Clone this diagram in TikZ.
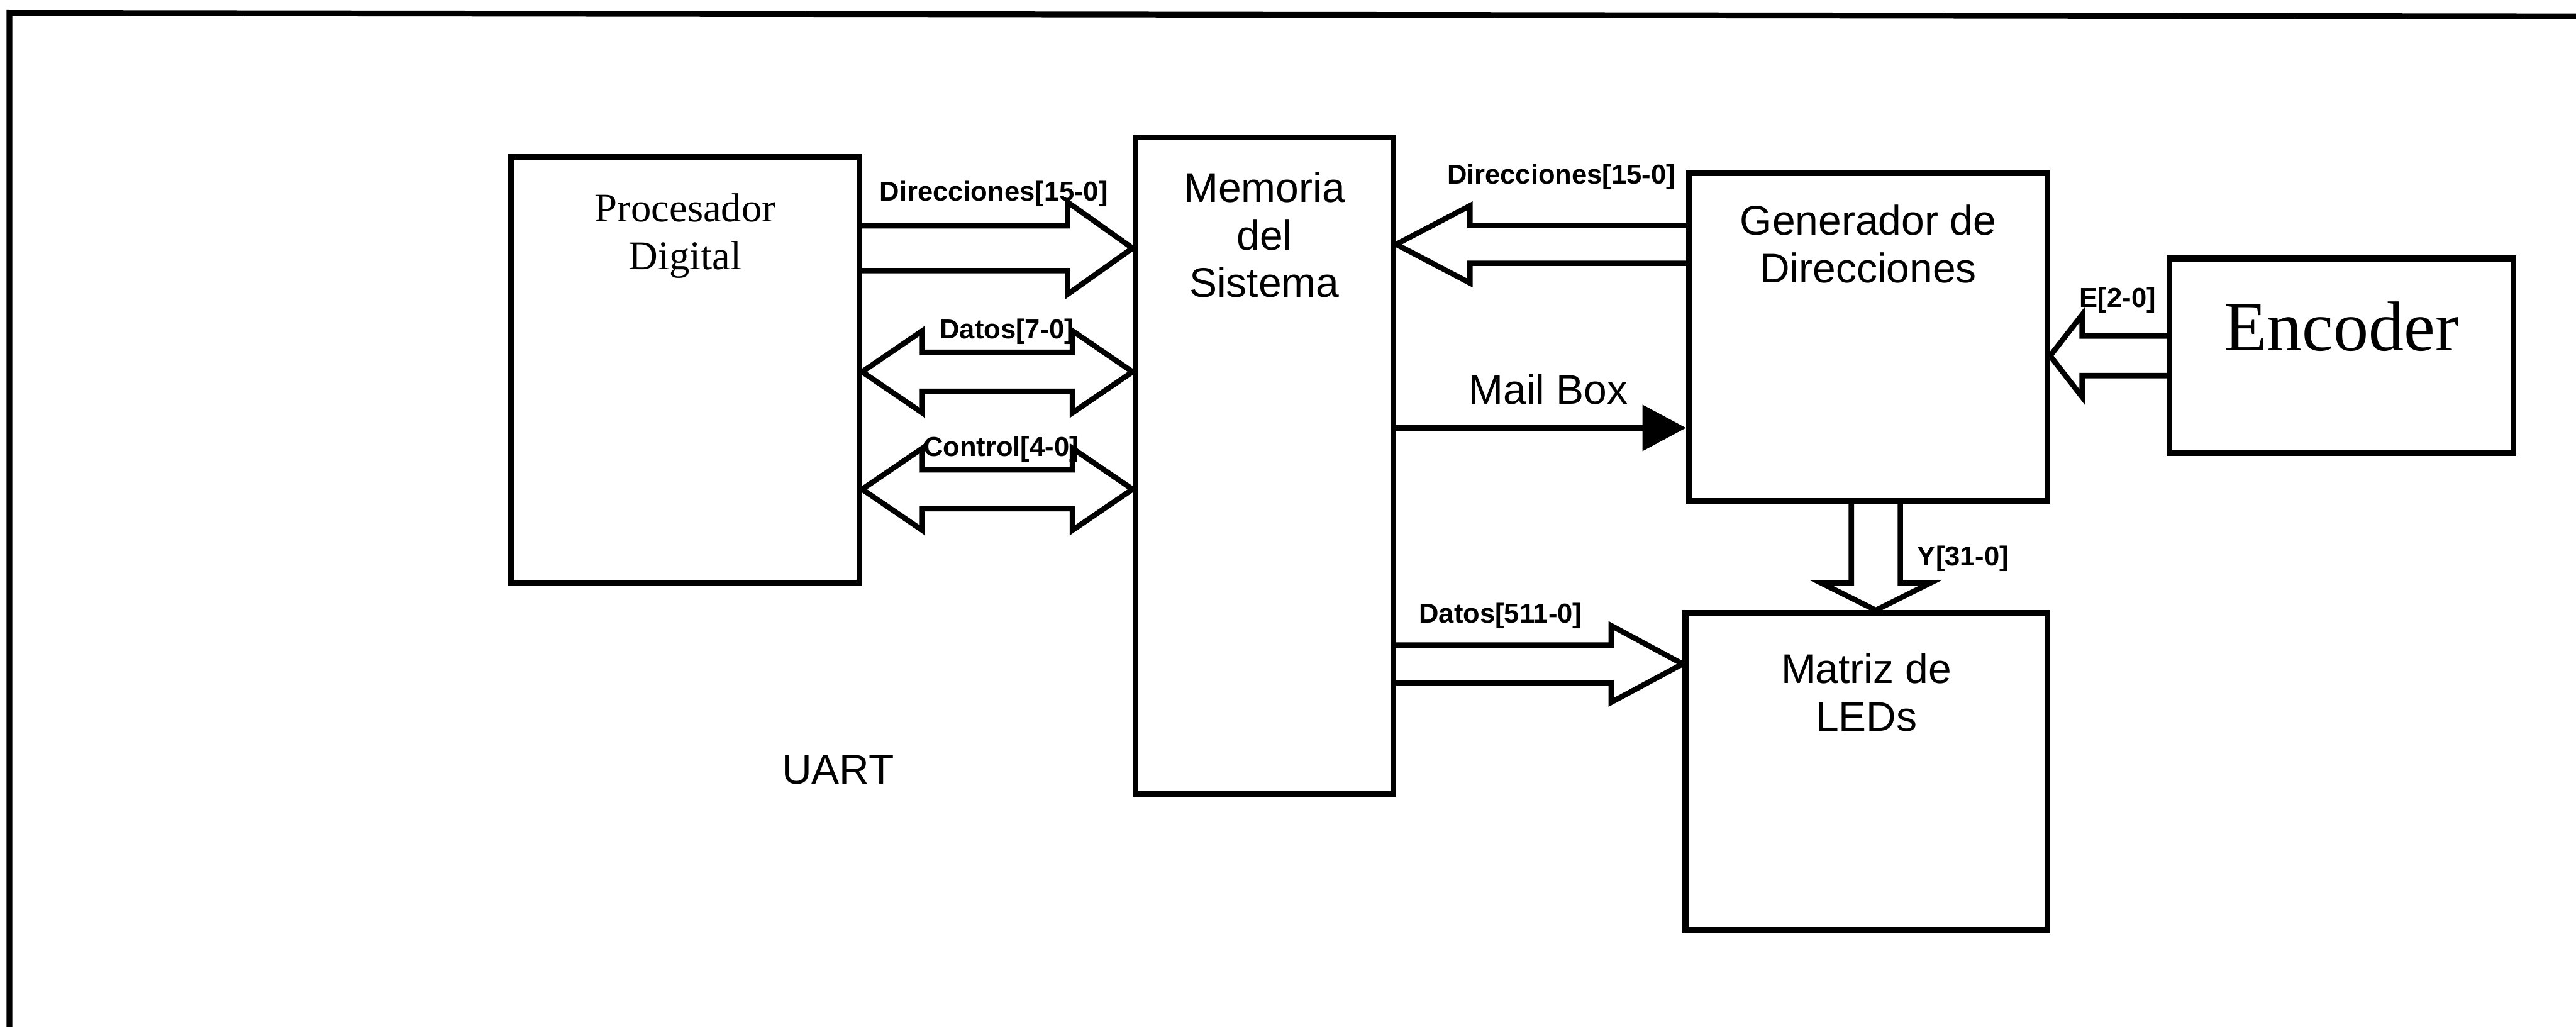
\documentclass[tikz,border=0pt]{standalone}
\usepackage{fontspec}
\setmainfont{Liberation Sans}
\newfontfamily\timesf{Liberation Serif}
\usepackage{tikz}
\usetikzlibrary{calc}
\usetikzlibrary{positioning}
\usetikzlibrary{arrows.meta}
\tikzset{box/.style n args={2}{draw, rectangle, line width=1.4pt, inner sep=0pt, minimum width=#1, minimum height=#2}}
\tikzset{bus/.style={line width=1.3pt, line join=miter}}
\tikzset{wire/.style={line width=1.5pt, -{Triangle[length=0.37cm,width=0.38cm]}}}
\tikzset{tag/.style={font=\fontsize{6.6}{7.5}\selectfont\bfseries, inner sep=1pt}}
\tikzset{txt/.style={font=\fontsize{10}{11.5}\selectfont, align=center}}
% block arrows: start, tip, half shaft, half head, head length
\newcommand{\busH}[5]{%
  \draw[bus] ($(#1)+(0,#3)$) -- ($(#2)+(#5,#3)$) -- ($(#2)+(#5,#4)$) -- (#2)
    -- ($(#2)+(#5,-#4)$) -- ($(#2)+(#5,-#3)$) -- ($(#1)+(0,-#3)$);}
\newcommand{\busD}[5]{%
  \draw[bus] (#1) -- ($(#1)+(#5,#4)$) -- ($(#1)+(#5,#3)$) -- ($(#2)+(-#5,#3)$)
    -- ($(#2)+(-#5,#4)$) -- (#2) -- ($(#2)+(-#5,-#4)$) -- ($(#2)+(-#5,-#3)$)
    -- ($(#1)+(#5,-#3)$) -- ($(#1)+(#5,-#4)$) -- cycle;}
\newcommand{\busV}[5]{%
  \draw[bus] ($(#1)+(-#3,0)$) -- ($(#2)+(-#3,#5)$) -- ($(#2)+(-#4,#5)$) -- (#2)
    -- ($(#2)+(#4,#5)$) -- ($(#2)+(#3,#5)$) -- ($(#1)+(#3,0)$);}

\begin{document}
\begin{tikzpicture}
   \useasboundingbox (0,0) rectangle (21.825,-8.7);
   % frame
   \draw[line width=1.4pt] (0.08,-8.7) -- (0.08,-0.11) -- (21.825,-0.14);

   \node[box={2.95cm}{3.61cm}]   (proc) at (5.805,-3.135)    {};
   \node[box={2.185cm}{5.565cm}] (mem)  at (10.7125,-3.9475) {};
   \node[box={3.035cm}{2.775cm}] (gen)  at (15.8275,-2.8575) {};
   \node[box={2.915cm}{1.65cm}]  (enc)  at (19.8375,-3.015)  {};
   \node[box={3.065cm}{2.685cm}] (mat)  at (15.8125,-6.5375) {};

   \node[txt, font=\timesf\fontsize{9.8}{11.5}\selectfont] (proctxt) at ([yshift=-0.695cm]proc.north) {Procesador\\Digital};
   \node[txt] (memtxt) at ([yshift=-0.85cm]mem.north) {Memoria\\del\\Sistema};
   \node[txt] (gentxt) at ([yshift=-0.62cm]gen.north) {Generador de\\Direcciones};
   \node[txt] (mattxt) at ([yshift=-0.695cm]mat.north) {Matriz de\\LEDs};
   \node[font=\timesf\fontsize{17}{20}\selectfont] (enctxt) at ([yshift=0.2475cm]enc.center) {Encoder};
   \node[txt] (uart) at (7.1,-6.52) {UART};

   % buses
   \coordinate (d1a) at ([yshift=-0.7975cm]proc.north east);
   \coordinate (d1b) at (mem.west |- d1a);
   \busH{d1a}{d1b}{0.19}{0.39}{-0.55}
   \coordinate (dta) at ([yshift=-1.845cm]proc.north east);
   \coordinate (dtb) at (mem.west |- dta);
   \busD{dta}{dtb}{0.165}{0.3475}{0.51}
   \coordinate (cta) at ([yshift=-2.84cm]proc.north east);
   \coordinate (ctb) at (mem.west |- cta);
   \busD{cta}{ctb}{0.165}{0.3475}{0.51}
   \coordinate (d2a) at ([yshift=-0.625cm]gen.north west);
   \coordinate (d2b) at (mem.east |- d2a);
   \busH{d2a}{d2b}{0.16}{0.3275}{0.625}
   \coordinate (ea) at (enc.west);
   \coordinate (eb) at (gen.east |- ea);
   \busH{ea}{eb}{0.1675}{0.3475}{0.27}
   \coordinate (ya) at ([xshift=0.065cm]gen.south);
   \coordinate (yb) at (mat.north -| ya);
   \busV{ya}{yb}{0.2075}{0.46}{0.23}
   \coordinate (d5b) at ([yshift=-0.455cm]mat.north west);
   \coordinate (d5a) at (mem.east |- d5b);
   \busH{d5a}{d5b}{0.16}{0.325}{-0.605}

   \coordinate (mbb) at ([yshift=-2.18cm]gen.north west);
   \coordinate (mba) at (mem.east |- mbb);
   \draw[wire] (mba) -- (mbb);

   % labels
   \node[tag] (l1) at ($(d1a)!0.5!(d1b)+(-0.03,0.46)$) {Direcciones[15-0]};
   \node[tag] (l2) at ($(dta)!0.5!(dtb)+(0.08,0.34)$) {Datos[7-0]};
   \node[tag] (l3) at ($(cta)!0.5!(ctb)+(0.03,0.34)$) {Control[4-0]};
   \node[tag] (l4) at ($(d2a)!0.5!(d2b)+(0.17,0.57)$) {Direcciones[15-0]};
   \node[txt] (mail) at ($(mba)!0.5!(mbb)+(0.06,0.33)$) {Mail Box};
   \node[tag] (l5) at ($(ea)!0.5!(eb)+(0.08,0.47)$) {E[2-0]};
   \node[tag] (l6) at ($(ya)!0.5!(yb)+(0.74,-0.015)$) {Y[31-0]};
   \node[tag] (l7) at ($(d5a)!0.5!(d5b)+(-0.33,0.405)$) {Datos[511-0]};
\end{tikzpicture}
\end{document}
